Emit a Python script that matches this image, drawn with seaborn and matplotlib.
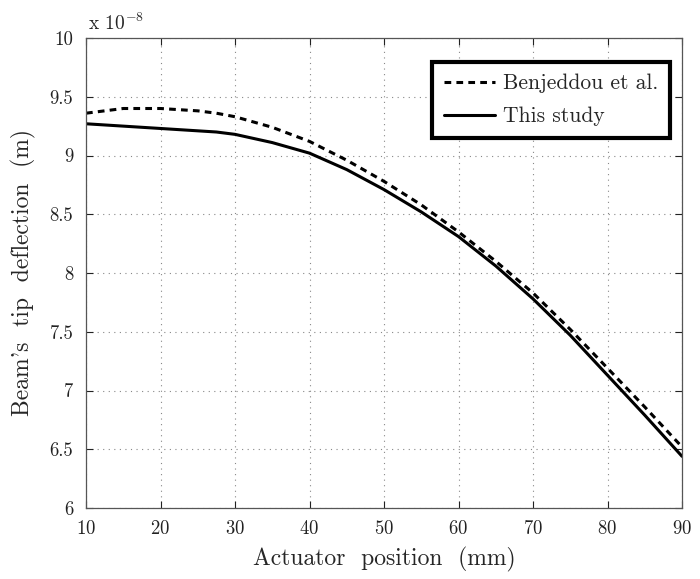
import numpy as np
import pandas as pd
import matplotlib
matplotlib.use("Agg")
import matplotlib.pyplot as plt
import seaborn as sns
from matplotlib.ticker import FormatStrFormatter

# -----------------------------
# DATA (tip deflection in units of 1e-8 m)
# -----------------------------
position = [10, 15, 20, 25, 27.5, 30, 35, 40, 45, 50, 55, 60, 65, 70, 75, 80, 85, 90]
this_study = [9.27, 9.25, 9.23, 9.21, 9.20, 9.18, 9.11, 9.02, 8.88, 8.71, 8.52, 8.31,
              8.06, 7.78, 7.47, 7.13, 6.79, 6.44]
benjeddou = [9.36, 9.40, 9.40, 9.38, 9.36, 9.33, 9.24, 9.12, 8.96, 8.78, 8.58, 8.35,
             8.10, 7.83, 7.52, 7.19, 6.86, 6.52]

x_ticks = [10, 20, 30, 40, 50, 60, 70, 80, 90]
y_ticks = [6, 6.5, 7, 7.5, 8, 8.5, 9, 9.5, 10]

df = pd.DataFrame({"pos": position, "this": this_study, "benj": benjeddou})

# -----------------------------
# STYLE
# -----------------------------
sns.set_style("ticks")
plt.rcParams["font.family"] = ["cmr10", "DejaVu Serif"]
plt.rcParams["mathtext.fontset"] = "cm"
plt.rcParams["axes.formatter.use_mathtext"] = True

fig = plt.figure(figsize=(7, 5.79), dpi=100)
ax = fig.add_axes([86 / 700, 1 - 508 / 579, (682 - 86) / 700, (508 - 38) / 579])

sns.lineplot(data=df, x="pos", y="benj", ax=ax, color="black", lw=2.2,
             linestyle=(0, (2.2, 1.7)), label="Benjeddou et al.", sort=False)
sns.lineplot(data=df, x="pos", y="this", ax=ax, color="black", lw=2.2,
             linestyle="-", label="This study", sort=False)

ax.set_xlim(10, 90)
ax.set_ylim(6, 10)
ax.set_xticks(x_ticks)
ax.set_yticks(y_ticks)
ax.yaxis.set_major_formatter(FormatStrFormatter("%g"))

ax.grid(True, linestyle=(0, (1, 4)), color="#888888", lw=0.8)
ax.tick_params(direction="in", top=True, right=True, length=5, width=0.8,
               labelsize=13.5, colors="#222222", pad=9)
for s in ax.spines.values():
    s.set_color("#555555")
    s.set_linewidth(0.9)

ax.set_xlabel("Actuator  position  (mm)", fontsize=17, labelpad=6)
ax.set_ylabel("Beam's  tip  deflection  (m)", fontsize=17, labelpad=10)
ax.text(0.003, 1.008, r"x 10$^{\mathrm{-8}}$", transform=ax.transAxes,
        fontsize=14, ha="left", va="bottom")

leg = ax.legend(loc="upper right", fontsize=15.5, frameon=True, fancybox=False,
                handlelength=2.4, borderpad=0.55, labelspacing=0.62,
                bbox_to_anchor=(0.98, 0.949), handletextpad=0.35,
                borderaxespad=0)
leg.get_frame().set_edgecolor("black")
leg.get_frame().set_linewidth(3)
leg.get_frame().set_alpha(1)

fig.savefig("out.png", dpi=100)
